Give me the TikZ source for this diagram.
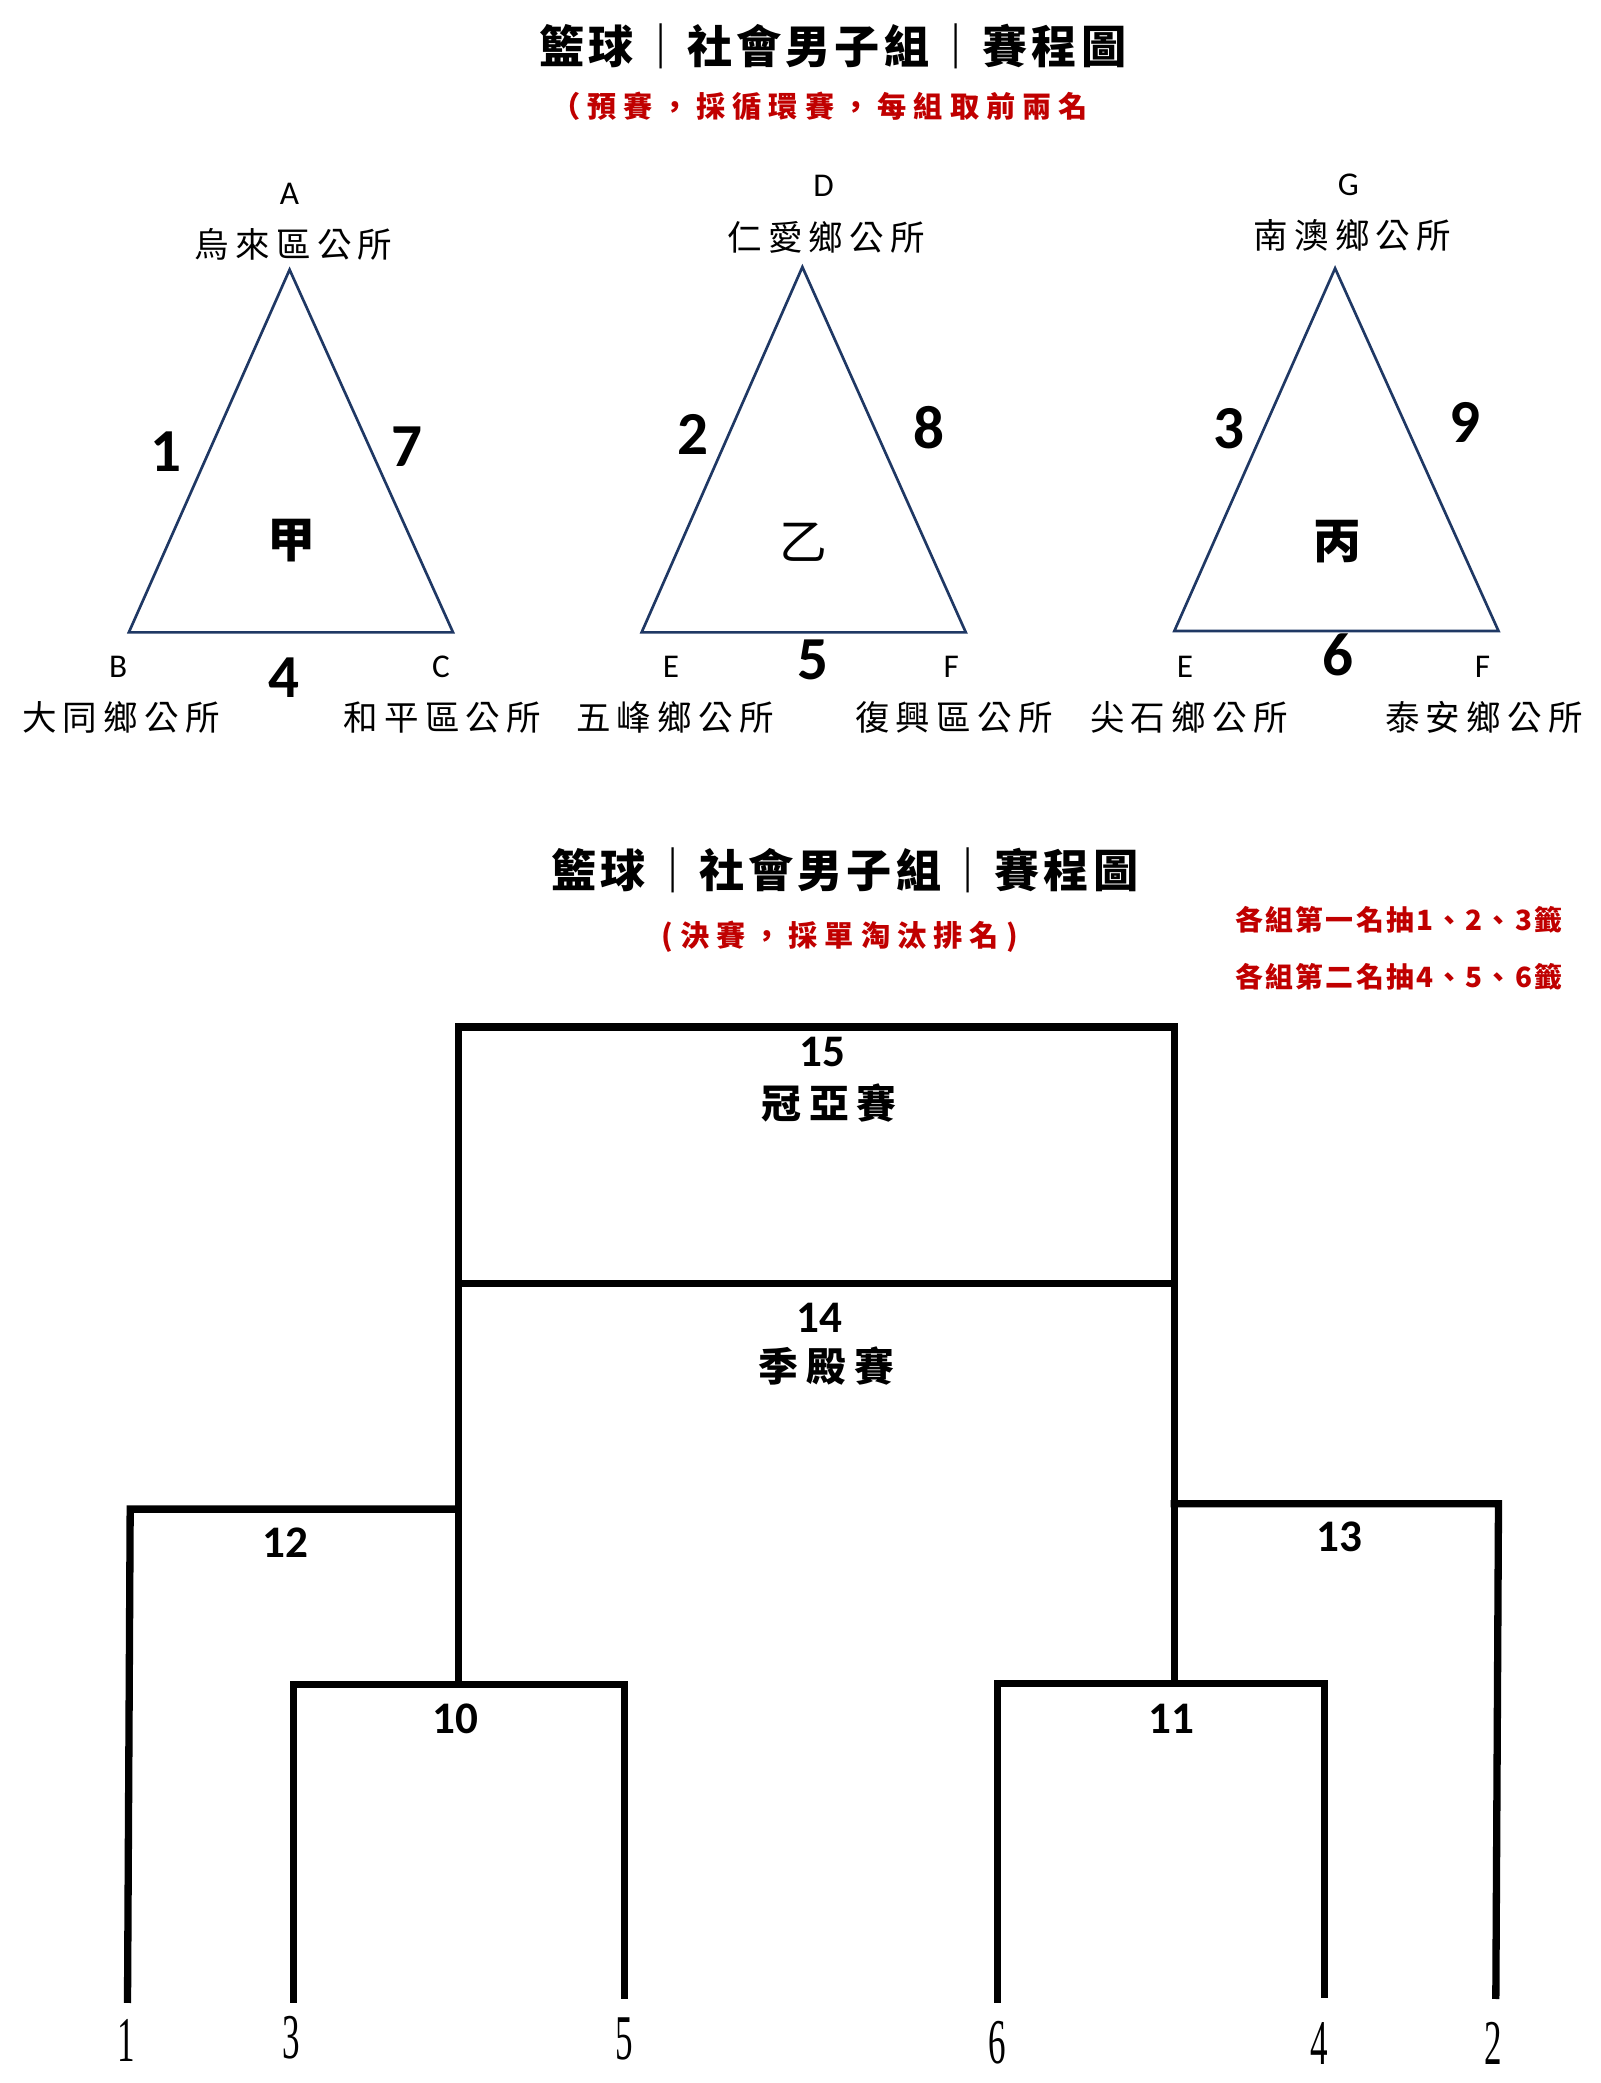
\documentclass[tikz,border=0pt]{standalone}
\usepackage{fontspec}
\setmainfont{Carlito}
\newfontfamily\cjk{Noto Sans CJK TC}
\newfontfamily\cjkT[LetterSpace=9]{Noto Sans CJK TC}
\newfontfamily\cjkS[LetterSpace=24]{Noto Sans CJK TC}
\newfontfamily\cjkN[LetterSpace=18]{Noto Sans CJK TC}
\newfontfamily\cjkR[LetterSpace=8]{Noto Sans CJK TC}
\newfontfamily\cjkB[LetterSpace=20]{Noto Sans CJK TC}
\newfontfamily\sernum{Liberation Serif}
\definecolor{tricol}{HTML}{1F3864}
\definecolor{redt}{HTML}{C00000}
\begin{document}
\begin{tikzpicture}[x=1pt,y=-1pt,
  every node/.style={inner sep=0pt,outer sep=0pt},
  ttl/.style={font=\cjkT\bfseries\fontsize{34}{36}\selectfont},
  subt/.style={text=redt,font=\cjkS\bfseries\fontsize{22}{24}\selectfont},
  note/.style={text=redt,font=\cjkR\bfseries\fontsize{21}{23}\selectfont},
  lat/.style={font=\fontsize{25}{27}\selectfont},
  nm/.style={font=\cjkN\fontsize{26}{28}\selectfont},
  num/.style={font=\bfseries\fontsize{46}{48}\selectfont},
  grp/.style={font=\cjk\fontsize{36}{38}\selectfont},
  grpb/.style={font=\cjk\bfseries\fontsize{36}{38}\selectfont},
  tri/.style={draw=tricol,line width=2pt,line join=miter},
  brk/.style={draw=black,line width=5.5pt,line join=miter,line cap=rect},
  bnum/.style={font=\bfseries\fontsize{34}{36}\selectfont},
  bname/.style={font=\cjkB\bfseries\fontsize{30}{32}\selectfont},
  seed/.style={font=\sernum\fontsize{48}{50}\selectfont}
]
\fill[white] (0,0) rectangle (1205,1568);
\useasboundingbox (0,0) rectangle (1205,1568);

% ---------- titles ----------
\node[ttl] (title1) at (627,35) {籃球｜社會男子組｜賽程圖};
\node[subt] (sub1) at (617,80) {（預賽，採循環賽，每組取前兩名};

% ---------- group 甲 ----------
\node[lat] (tA) at (218,146) {A};
\node[nm] (nA) at (221,184) {烏來區公所};
\coordinate (a1) at (218,203);
\coordinate (b1) at (97,476);
\coordinate (c1) at (341,476);
\draw[tri] (a1) -- (b1) -- (c1) -- cycle;
\node[num] (m1) at (125,340) {1};
\node[num] (m7) at (306,336) {7};
\node[grpb] (gjia) at (219,407) {甲};
\node[num] (m4) at (214,510) {4};
\node[lat] (tB) at (89,502) {B};
\node[lat] (tC) at (332,502) {C};
\node[nm] (nB) at (91,540) {大同鄉公所};
\node[nm] (nC) at (333,540) {和平區公所};

% ---------- group 乙 ----------
\node[lat] (tD) at (620,140) {D};
\node[nm] (nD) at (622,179) {仁愛鄉公所};
\coordinate (a2) at (604,201);
\coordinate (b2) at (483,476);
\coordinate (c2) at (727,476);
\draw[tri] (a2) -- (b2) -- (c2) -- cycle;
\node[num] (m2) at (522,327) {2};
\node[num] (m8) at (699,322) {8};
\node[grp] (gyi) at (605,408) {乙};
\node[num] (m5) at (612,497) {5};
\node[lat] (tE1) at (505,502) {E};
\node[lat] (tF1) at (716,502) {F};
\node[nm] (nE1) at (508,540) {五峰鄉公所};
\node[nm] (nF1) at (718,540) {復興區公所};

% ---------- group 丙 ----------
\node[lat] (tG) at (1015,139) {G};
\node[nm] (nG) at (1018,177) {南澳鄉公所};
\coordinate (a3) at (1005,202);
\coordinate (b3) at (884,475);
\coordinate (c3) at (1128,475);
\draw[tri] (a3) -- (b3) -- (c3) -- cycle;
\node[num] (m3) at (925,323) {3};
\node[num] (m9) at (1103,318) {9};
\node[grpb] (gbing) at (1007,408) {丙};
\node[num] (m6) at (1007,493) {6};
\node[lat] (tE2) at (892,502) {E};
\node[lat] (tF2) at (1116,502) {F};
\node[nm] (nE2) at (895,540) {尖石鄉公所};
\node[nm] (nF2) at (1117,540) {泰安鄉公所};

% ---------- second title ----------
\node[ttl] (title2) at (636,655) {籃球｜社會男子組｜賽程圖};
\node[subt] (sub2) at (632,705) {(決賽，採單淘汰排名)};
\node[note] (note1) at (1053,692) {各組第一名抽1、2、3籤};
\node[note] (note2) at (1053,735) {各組第二名抽4、5、6籤};

% ---------- bracket ----------
\coordinate (f15l) at (345,773);
\coordinate (f15r) at (884,773);
\coordinate (m14l) at (345,966);
\coordinate (m14r) at (884,966);
\coordinate (j12) at (345,1136);
\coordinate (l12) at (98,1136);
\coordinate (p1) at (96,1505);
\coordinate (j10) at (345,1268);
\coordinate (l10) at (221,1268);
\coordinate (r10) at (470,1268);
\coordinate (p3) at (221,1505);
\coordinate (p5) at (470,1502);
\coordinate (j13) at (884,1132);
\coordinate (r13) at (1128,1132);
\coordinate (p2) at (1126,1502);
\coordinate (j11) at (884,1267);
\coordinate (l11) at (751,1267);
\coordinate (r11) at (997,1267);
\coordinate (p6) at (751,1505);
\coordinate (p4) at (997,1501);

\draw[brk] (j10) -- (f15l) -- (f15r) -- (j11);
\draw[brk] (m14l) -- (m14r);
\draw[brk] (j12) -- (l12) -- (p1);
\draw[brk] (p3) -- (l10) -- (r10) -- (p5);
\draw[brk] (j13) -- (r13) -- (p2);
\draw[brk] (p6) -- (l11) -- (r11) -- (p4);

\node[bnum] (k15) at (619,792) {15};
\node[bname] (k15t) at (624,830) {冠亞賽};
\node[bnum] (k14) at (617,992) {14};
\node[bname] (k14t) at (622,1028) {季殿賽};
\node[bnum] (k12) at (215,1161) {12};
\node[bnum] (k10) at (343,1294) {10};
\node[bnum] (k13) at (1008,1157) {13};
\node[bnum] (k11) at (882,1294) {11};

\node[seed] (s1) at (95,1536) {\scalebox{0.55}[1]{1}};
\node[seed] (s3) at (219,1534) {\scalebox{0.55}[1]{3}};
\node[seed] (s5) at (470,1535) {\scalebox{0.55}[1]{5}};
\node[seed] (s6) at (751,1538) {\scalebox{0.55}[1]{6}};
\node[seed] (s4) at (993,1538) {\scalebox{0.55}[1]{4}};
\node[seed] (s2) at (1124,1538) {\scalebox{0.55}[1]{2}};
\end{tikzpicture}
\end{document}
